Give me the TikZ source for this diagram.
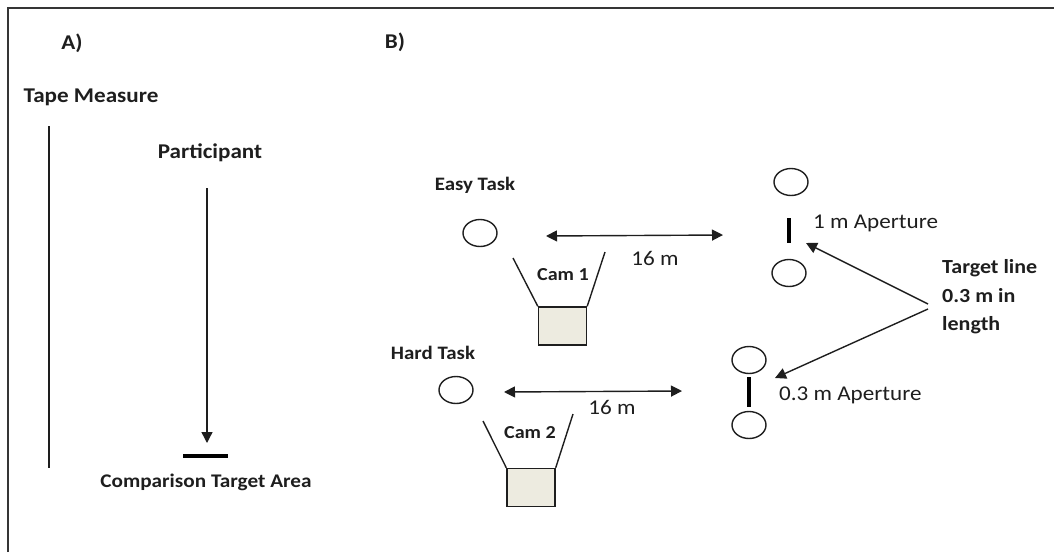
\documentclass[tikz,border=0pt]{standalone}
\usepackage{fontspec}
\setmainfont{Carlito}[FakeStretch=1.1]
\usetikzlibrary{arrows.meta,shapes.geometric}
\definecolor{camfill}{HTML}{EDEBE0}
\definecolor{ink}{HTML}{1E1E1E}
\tikzset{
  lbl/.style={font=\bfseries\fontsize{21}{24}\selectfont, text=ink, inner sep=0pt},
  lblmid/.style={font=\bfseries\fontsize{19.3}{22}\selectfont, text=ink, inner sep=0pt},
  lblsm/.style={font=\bfseries\fontsize{19}{22}\selectfont, text=ink, inner sep=0pt},
  camtxt/.style={font=\bfseries\fontsize{18.3}{21}\selectfont, text=ink, inner sep=0pt},
  txt/.style={font=\fontsize{21}{24}\selectfont, text=ink, inner sep=0pt},
  cone/.style={line width=1.4pt, draw=ink},
  cambox/.style={draw=ink, line width=1.4pt, fill=camfill, minimum width=48pt, minimum height=38pt, inner sep=0pt},
  marker/.style={ellipse, draw=ink, line width=1.4pt, minimum width=34pt, minimum height=27pt, inner sep=0pt},
  thin/.style={line width=1.4pt, draw=ink},
  bar/.style={line width=4.5pt, draw=black},
  tip/.style={-{Triangle[length=11pt,width=11pt]}},
  tips/.style={{Triangle[length=11pt,width=11pt]}-{Triangle[length=11pt,width=11pt]}},
}
\begin{document}
\begin{tikzpicture}[x=1pt,y=-1pt]
\useasboundingbox (0,0) rectangle (1054,552);

% outer frame (top and left edges)
\draw[line width=2.5pt, draw=ink!90] (8,552) -- (8,8) -- (1054,8);

% ---------- panel A ----------
\node[lbl] (labA) at (72,43) {A)};
\node[lbl] (tape) at (91,97) {Tape Measure};
\coordinate (tapeTop) at (49,126);
\coordinate (tapeBot) at (49,468);
\draw[thin] (tapeTop) -- (tapeBot);

\node[lbl] (part) at (210,153) {Participant};
\coordinate (walkStart) at (207,188);
\coordinate (walkEnd) at (207,443);
\draw[thin, tip] (walkStart) -- (walkEnd);

\coordinate (tgtL) at (183,456);
\coordinate (tgtR) at (228,456);
\draw[bar] (tgtL) -- (tgtR);
\node[lblmid] (comp) at (206,482) {Comparison Target Area};

% ---------- panel B ----------
\node[lbl] (labB) at (395,42) {B)};

% easy task
\node[lblsm] (easy) at (475,185) {Easy Task};
\node[marker] (e1) at (480,233) {};
\coordinate (eArrL) at (546,236);
\coordinate (eArrR) at (723,235);
\draw[thin, tips] (eArrL) -- (eArrR);
\node[txt] (e16) at (655,258) {16 m};

\node[cambox] (cam1) at (562.5,326) {};
\coordinate (c1L) at (513,258);
\coordinate (c1R) at (605,252);
\draw[cone] (cam1.north west) -- (c1L);
\draw[cone] (cam1.north east) -- (c1R);
\node[camtxt] (cam1lbl) at (563,275) {Cam 1};

\node[marker] (eg1) at (791,182) {};
\node[marker] (eg2) at (789,273) {};
\coordinate (eBarT) at (789,218);
\coordinate (eBarB) at (789,243);
\draw[bar] (eBarT) -- (eBarB);
\node[txt, anchor=west] (eAp) at (813,223) {1 m Aperture};

% hard task
\node[lblsm] (hard) at (433,353) {Hard Task};
\node[marker] (h1) at (456,390) {};
\coordinate (hArrL) at (504,392);
\coordinate (hArrR) at (682,391);
\draw[thin, tips] (hArrL) -- (hArrR);
\node[txt] (h16) at (612,407) {16 m};

\node[cambox] (cam2) at (531,487.5) {};
\coordinate (c2L) at (483,421);
\coordinate (c2R) at (573,414);
\draw[cone] (cam2.north west) -- (c2L);
\draw[cone] (cam2.north east) -- (c2R);
\node[camtxt] (cam2lbl) at (530,433) {Cam 2};

\node[marker] (hg1) at (749,360) {};
\node[marker] (hg2) at (749,425) {};
\coordinate (hBarT) at (749,377);
\coordinate (hBarB) at (749,407);
\draw[bar] (hBarT) -- (hBarB);
\node[txt, anchor=west] (hAp) at (779,395) {0.3 m Aperture};

% target line callout
\node[anchor=west, align=left, text=ink, inner sep=0pt, font=\bfseries\fontsize{20}{28.5}\selectfont] (tl) at (942,297) {Target line\\0.3 m in\\length};
\coordinate (tlA) at (928,304);
\coordinate (tlB) at (928,309);
\coordinate (tlAend) at (806,243);
\coordinate (tlBend) at (775,378);
\draw[thin, tip] (tlA) -- (tlAend);
\draw[thin, tip] (tlB) -- (tlBend);
\end{tikzpicture}
\end{document}
